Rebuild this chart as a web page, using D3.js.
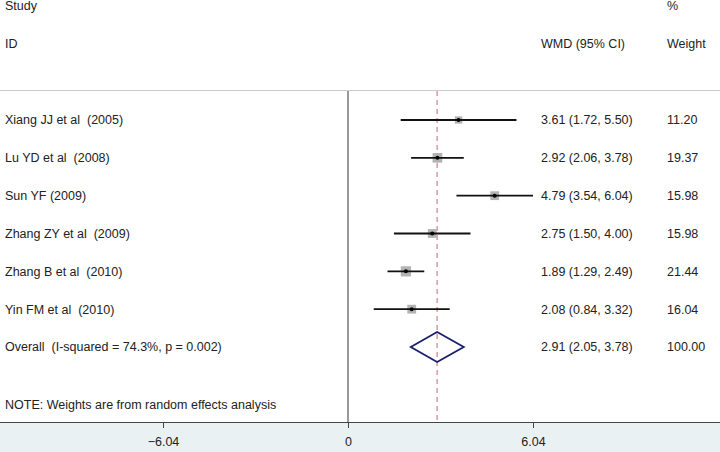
<!DOCTYPE html>
<html><head><meta charset="utf-8">
<script src="https://cdn.jsdelivr.net/npm/d3@7"></script>
<style>html,body{margin:0;padding:0;background:#fff;}svg{display:block;font-family:"Liberation Sans",Arial,sans-serif;}text{white-space:pre;}</style>
</head><body>
<svg id="c" width="720" height="452"></svg>
<script>
const studies = ["Xiang JJ et al  (2005)","Lu YD et al  (2008)","Sun YF (2009)","Zhang ZY et al  (2009)","Zhang B et al  (2010)","Yin FM et al  (2010)"];
const wmd = [3.61,2.92,4.79,2.75,1.89,2.08];
const lower = [1.72,2.06,3.54,1.50,1.29,0.84];
const upper = [5.50,3.78,6.04,4.00,2.49,3.32];
const weights = [11.20,19.37,15.98,15.98,21.44,16.04];
const overall = {label:"Overall  (I-squared = 74.3%, p = 0.002)", est:2.91, lo:2.05, hi:3.78, w:"100.00"};
const ticks = [-6.04, 0, 6.04];

const svg = d3.select("#c");
const x = d3.scaleLinear().domain([-6.04, 6.04]).range([163, 533]);
const rows = studies.concat([overall.label]);
const y = d3.scalePoint().domain(d3.range(rows.length)).range([120, 347]);
const txt = "#222";
const fs = 12.5;

// bottom panel
svg.append("rect").attr("x",0).attr("y",422).attr("width",720).attr("height",30).attr("fill","#eaf1f3");
// header separator
svg.append("line").attr("x1",0).attr("x2",720).attr("y1",90.5).attr("y2",90.5).attr("stroke","#ccc").attr("stroke-width",1);

// headers
const hdr = [["Study",5,6],["ID",5,44],["%",667,6],["WMD (95% CI)",541,44],["Weight",667,44]];
svg.selectAll("text.h").data(hdr).enter().append("text").attr("class","h")
  .attr("x",d=>d[1]).attr("y",d=>d[2]).attr("dy","0.35em").attr("font-size",fs).attr("fill",txt).text(d=>d[0]);

// null line
svg.append("line").attr("x1",x(0)).attr("x2",x(0)).attr("y1",91).attr("y2",422).attr("stroke","#555").attr("stroke-width",1.2);
// overall dashed line
svg.append("line").attr("x1",x(overall.est)).attr("x2",x(overall.est)).attr("y1",91).attr("y2",422)
  .attr("stroke","#c9848c").attr("stroke-width",1.2).attr("stroke-dasharray","5,4");

const data = studies.map((s,i)=>({s,e:wmd[i],lo:lower[i],hi:upper[i],w:weights[i],i}));
const g = svg.append("g");
data.forEach(d=>{
  const yy = y(d.i);
  const side = 2.2*Math.sqrt(d.w);
  g.append("rect").attr("x",x(d.e)-side/2).attr("y",yy-side/2).attr("width",side).attr("height",side).attr("fill","#b3b3b3");
  g.append("line").attr("x1",x(d.lo)).attr("x2",x(d.hi)).attr("y1",yy).attr("y2",yy).attr("stroke","#111").attr("stroke-width",1.8);
  g.append("circle").attr("cx",x(d.e)).attr("cy",yy).attr("r",2).attr("fill","#000");
  svg.append("text").attr("x",5).attr("y",yy).attr("dy","0.35em").attr("font-size",fs).attr("fill",txt).text(d.s);
  svg.append("text").attr("x",541).attr("y",yy).attr("dy","0.35em").attr("font-size",fs).attr("fill",txt)
    .text(`${d.e.toFixed(2)} (${d.lo.toFixed(2)}, ${d.hi.toFixed(2)})`);
  svg.append("text").attr("x",667).attr("y",yy).attr("dy","0.35em").attr("font-size",fs).attr("fill",txt).text(d.w.toFixed(2));
});

// overall diamond
const yo = y(rows.length-1);
svg.append("path").attr("d",`M${x(overall.lo)},${yo}L${x(overall.est)},${yo-15}L${x(overall.hi)},${yo}L${x(overall.est)},${yo+15}Z`)
  .attr("fill","none").attr("stroke","#1a1f6e").attr("stroke-width",1.8);
svg.append("text").attr("x",5).attr("y",yo).attr("dy","0.35em").attr("font-size",fs).attr("fill",txt).text(overall.label);
svg.append("text").attr("x",541).attr("y",yo).attr("dy","0.35em").attr("font-size",fs).attr("fill",txt)
  .text(`${overall.est.toFixed(2)} (${overall.lo.toFixed(2)}, ${overall.hi.toFixed(2)})`);
svg.append("text").attr("x",667).attr("y",yo).attr("dy","0.35em").attr("font-size",fs).attr("fill",txt).text(overall.w);

svg.append("text").attr("x",5).attr("y",405).attr("dy","0.35em").attr("font-size",fs).attr("fill",txt).text("NOTE: Weights are from random effects analysis");

// axis
const ax = svg.append("g").attr("transform","translate(0,422)")
  .call(d3.axisBottom(x).tickValues(ticks).tickFormat(d=>d===0?"0":d3.format(".2f")(d)).tickSize(6).tickPadding(9));
ax.select(".domain").attr("d","M0,0.5H720").attr("stroke","#444");
ax.selectAll(".tick line").attr("stroke","#444");
ax.selectAll(".tick text").attr("font-size",fs).attr("fill",txt).attr("font-family","Liberation Sans, Arial, sans-serif");
</script>
</body></html>
